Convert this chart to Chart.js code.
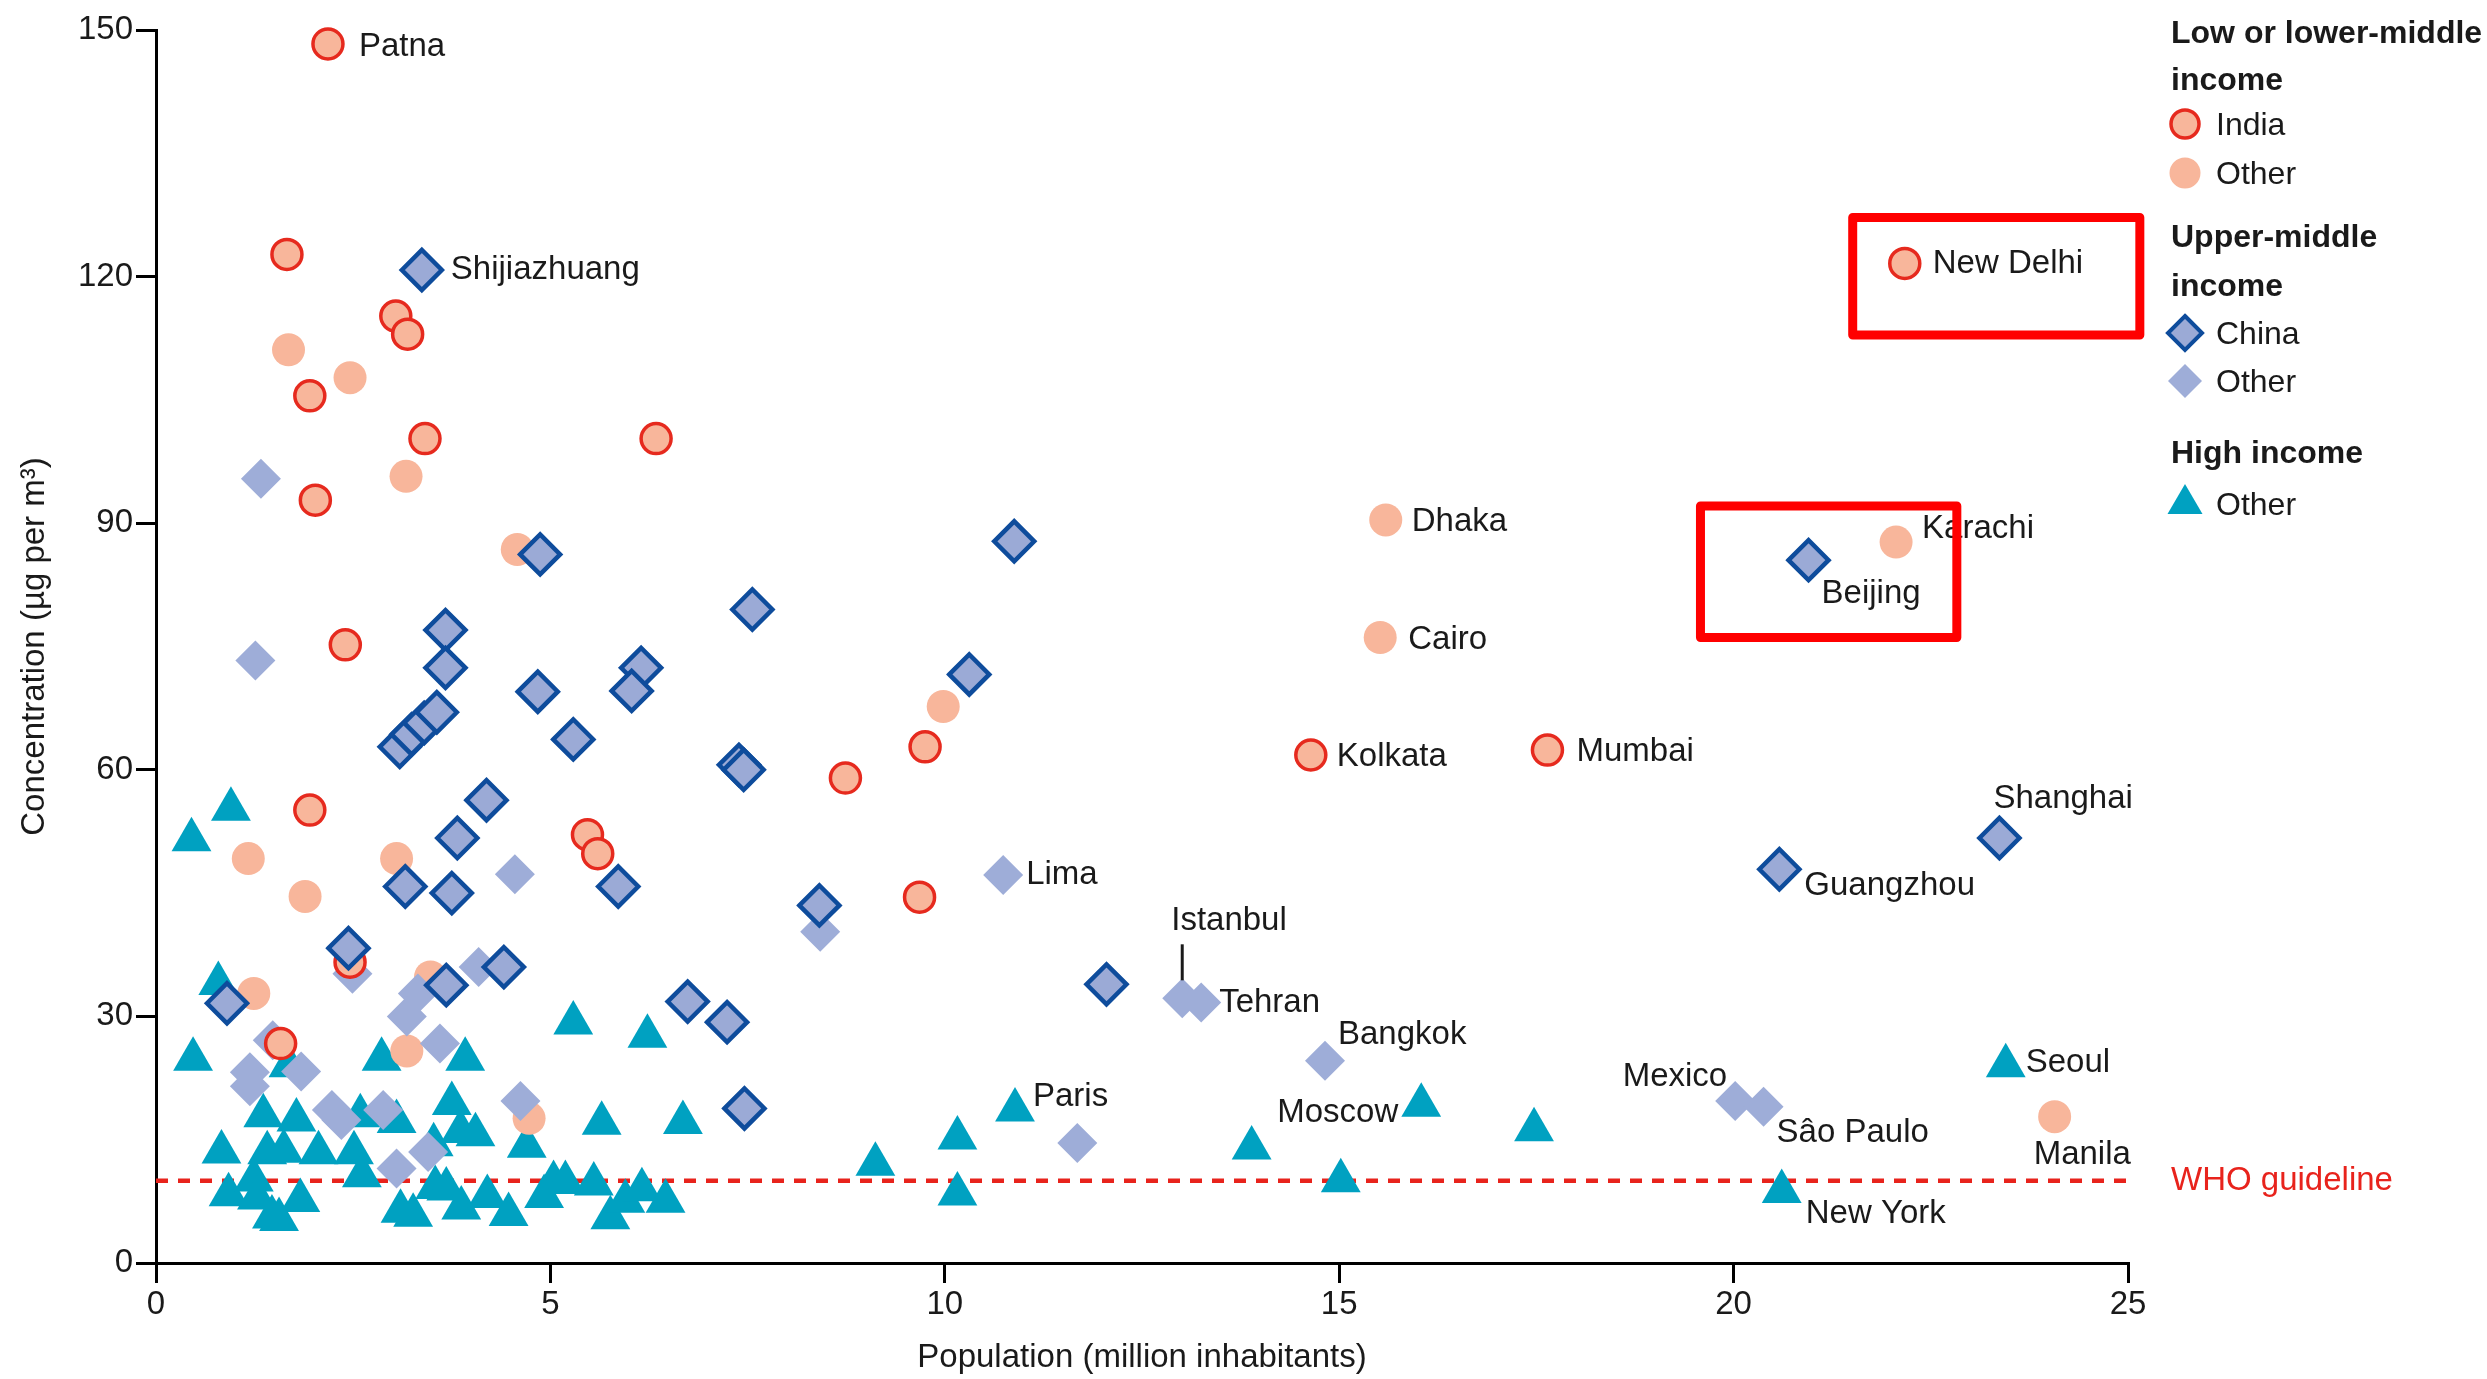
<!DOCTYPE html>
<html>
<head>
<meta charset="utf-8">
<title>Concentration vs population</title>
<script src="https://cdn.jsdelivr.net/npm/chart.js@4.4.1/dist/chart.umd.min.js"></script>
<style>
  html, body { margin: 0; padding: 0; background: #fff; }
  #wrap { position: relative; width: 2487px; height: 1379px; font-family: "Liberation Sans", Arial, sans-serif; color: #1a1a1a; }
  #chart { position: absolute; left: 0; top: 0; }
  .lg { position: absolute; left: 2171px; font-size: 32px; height: 40px; line-height: 40px; white-space: nowrap; }
  .lg.head { font-weight: bold; }
  .lg.item { padding-left: 45px; }
  .lg svg { position: absolute; left: -2px; top: 4px; overflow: visible; }
</style>
</head>
<body>
<div id="wrap">
  <canvas id="chart" width="2487" height="1379"></canvas>

  <!-- legend, grouped by income level -->
  <div class="lg head" style="top: 12px">Low or lower-middle</div>
  <div class="lg head" style="top: 59px">income</div>
  <div class="lg item" style="top: 104px"><svg width="32" height="32"><circle cx="16" cy="16" r="14" fill="#f8b69b" stroke="#e62a1e" stroke-width="3.5"/></svg>India</div>
  <div class="lg item" style="top: 153px"><svg width="32" height="32"><circle cx="16" cy="16" r="15.5" fill="#f8b69b"/></svg>Other</div>
  <div class="lg head" style="top: 216px">Upper-middle</div>
  <div class="lg head" style="top: 265px">income</div>
  <div class="lg item" style="top: 313px"><svg width="32" height="32"><polygon points="16,-1 33,16 16,33 -1,16" fill="#9baad6" stroke="#0e4c9c" stroke-width="4"/></svg>China</div>
  <div class="lg item" style="top: 361px"><svg width="32" height="32"><polygon points="16,-1 33,16 16,33 -1,16" fill="#9eadd8"/></svg>Other</div>
  <div class="lg head" style="top: 432px">High income</div>
  <div class="lg item" style="top: 484px"><svg width="32" height="32"><polygon points="16,-4 33.5,26 -1.5,26" fill="#00a1c1"/></svg>Other</div>
</div>

<script>
// ---- data: population (million) and PM concentration (µg per m3) ----
// named cities come first in each group, matching the names arrays

// low or lower-middle income, India
const indiaNames = ["Patna", "New Delhi", "Kolkata", "Mumbai"];
const indiaPop = [2.18, 22.17, 14.64, 17.64, 1.66, 3.04, 3.19, 1.95, 3.41, 6.34, 2.02, 2.40, 1.95, 5.47, 5.60, 8.74, 9.75, 9.68, 2.46, 1.58];
const indiaConc = [148.3, 121.6, 61.8, 62.4, 122.7, 115.2, 113.0, 105.5, 100.3, 100.3, 92.8, 75.2, 55.1, 52.1, 49.8, 59.0, 62.8, 44.5, 36.6, 26.7];

// low or lower-middle income, other countries
const otherLowNames = ["Dhaka", "Cairo", "Karachi", "Manila"];
const otherLowPop = [15.59, 15.52, 22.06, 24.07, 1.68, 2.46, 3.17, 4.58, 9.98, 1.17, 1.89, 3.05, 1.24, 3.48, 3.18, 4.73];
const otherLowConc = [90.4, 76.1, 87.7, 17.8, 111.1, 107.7, 95.7, 86.8, 67.7, 49.2, 44.6, 49.2, 32.8, 34.8, 25.8, 17.6];

// upper-middle income, China
const chinaNames = ["Shijiazhuang", "Beijing", "Shanghai", "Guangzhou"];
const chinaPop = [3.37, 20.95, 23.37, 20.58, 4.87, 7.56, 3.67, 3.67, 4.84, 6.15, 6.03, 3.09, 3.24, 3.40, 3.56, 5.29, 7.39, 7.45, 10.88, 10.31, 4.19, 3.82, 3.16, 3.75, 5.86, 8.41, 2.44, 3.68, 4.41, 0.90, 6.74, 7.24, 7.46, 12.05];
const chinaConc = [120.8, 85.5, 51.7, 47.9, 86.2, 79.5, 77.0, 72.4, 69.5, 72.4, 69.6, 62.8, 64.3, 65.7, 67.0, 63.7, 60.6, 60.0, 87.8, 71.6, 56.3, 51.7, 45.8, 45.0, 45.8, 43.5, 38.3, 33.8, 36.0, 31.6, 31.8, 29.3, 18.8, 33.9];

// upper-middle income, other countries
const otherUpperNames = ["Lima", "Istanbul", "Tehran", "Bangkok", "Mexico", "Sâo Paulo"];
const otherUpperPop = [10.74, 13.01, 13.25, 14.82, 20.02, 20.38, 1.33, 1.26, 4.55, 8.42, 11.68, 2.49, 1.48, 1.19, 1.19, 1.84, 3.32, 3.18, 4.09, 3.60, 4.62, 2.23, 2.35, 2.88, 3.45, 3.05];
const otherUpperConc = [47.2, 32.2, 31.7, 24.6, 19.7, 19.0, 95.4, 73.3, 47.3, 40.3, 14.6, 35.2, 27.1, 23.2, 21.5, 23.3, 32.8, 30.0, 36.0, 26.7, 19.7, 18.6, 17.4, 18.6, 13.5, 11.5];

// high income
const highNames = ["Paris", "Moscow", "New York", "Seoul"];
const highPop = [10.89, 16.04, 20.61, 23.45, 0.45, 0.95, 0.79, 0.47, 1.68, 2.86, 3.92, 5.29, 6.23, 3.75, 1.36, 1.78, 2.59, 3.05, 0.83, 1.41, 1.62, 2.06, 2.51, 2.61, 3.52, 0.92, 1.24, 1.28, 1.47, 1.56, 1.83, 3.10, 3.26, 3.54, 3.68, 3.87, 3.86, 4.05, 4.70, 4.20, 4.47, 4.92, 5.04, 5.19, 5.55, 5.76, 5.95, 6.16, 6.46, 5.65, 6.68, 9.12, 10.16, 10.16, 13.89, 15.02, 17.47];
const highConc = [18.6, 19.2, 8.7, 24.0, 51.5, 55.2, 34.0, 24.8, 24.0, 24.8, 24.8, 29.2, 27.6, 19.4, 17.9, 17.4, 17.9, 17.2, 13.5, 13.4, 13.6, 13.4, 13.4, 10.6, 14.4, 8.3, 10.1, 7.9, 5.6, 5.3, 7.6, 6.3, 5.8, 9.2, 9.0, 6.7, 16.0, 15.6, 14.2, 8.1, 5.9, 8.1, 9.8, 9.8, 9.6, 5.5, 7.5, 8.9, 7.5, 17.0, 17.1, 12.0, 15.2, 8.4, 14.0, 10.0, 16.2];

const whoGuideline = 10;
const xTicks = [0, 5, 10, 15, 20, 25];
const yTicks = [0, 30, 60, 90, 120, 150];

// highlighted areas (data units): [xFrom, xTo, yFrom, yTo]
const highlightBoxes = [
  [21.51, 25.15, 112.9, 127.2],
  [19.58, 22.83, 76.1, 92.1]
];

// ---- label placement (pixels from the point): dx, dy, align, leader line ----
const labelOffsets = {
  "Patna": [31, 3, "left"],
  "New Delhi": [28, 0, "left"],
  "Kolkata": [26, 2, "left"],
  "Mumbai": [29, 2, "left"],
  "Dhaka": [26, 2, "left"],
  "Cairo": [28, 2, "left"],
  "Karachi": [26, -13, "left"],
  "Manila": [-21, 38, "left"],
  "Shijiazhuang": [29, 0, "left"],
  "Beijing": [13, 34, "left"],
  "Shanghai": [-6, -39, "left"],
  "Guangzhou": [25, 17, "left"],
  "Lima": [23, 0, "left"],
  "Istanbul": [-11, -77, "left", [-54, -18]],
  "Tehran": [18, 0, "left"],
  "Bangkok": [13, -26, "left"],
  "Mexico": [-8, -24, "right"],
  "Sâo Paulo": [13, 26, "left"],
  "Paris": [18, -13, "left"],
  "Moscow": [-23, 8, "right"],
  "New York": [24, 22, "left"],
  "Seoul": [20, -3, "left"]
};

const FONT = '"Liberation Sans", Arial, sans-serif';
const TEXT = "#1a1a1a";

function points(xs, ys) {
  return xs.map((x, i) => ({ x: x, y: ys[i] }));
}

// city names next to their markers
const cityLabels = {
  id: "cityLabels",
  afterDatasetsDraw(chart) {
    const ctx = chart.ctx;
    ctx.save();
    ctx.font = "33px " + FONT;
    ctx.fillStyle = TEXT;
    ctx.strokeStyle = TEXT;
    ctx.lineWidth = 3;
    ctx.textBaseline = "middle";
    chart.data.datasets.forEach((ds, di) => {
      if (!ds.names) return;
      const meta = chart.getDatasetMeta(di);
      ds.names.forEach((name, i) => {
        const el = meta.data[i];
        const o = labelOffsets[name];
        ctx.textAlign = o[2];
        ctx.fillText(name, el.x + o[0], el.y + o[1]);
        if (o[3]) {
          ctx.beginPath();
          ctx.moveTo(el.x, el.y + o[3][0]);
          ctx.lineTo(el.x, el.y + o[3][1]);
          ctx.stroke();
        }
      });
    });

    // WHO guideline label at the right end of the dashed line
    const yPix = chart.scales.y.getPixelForValue(whoGuideline);
    ctx.fillStyle = "#e8231c";
    ctx.textAlign = "left";
    ctx.fillText("WHO guideline", chart.chartArea.right + 43, yPix);

    // red highlight rectangles
    const xs = chart.scales.x, ys = chart.scales.y;
    ctx.strokeStyle = "#ff0000";
    ctx.lineWidth = 9;
    ctx.lineJoin = "round";
    highlightBoxes.forEach(b => {
      const x1 = xs.getPixelForValue(b[0]), x2 = xs.getPixelForValue(b[1]);
      const y1 = ys.getPixelForValue(b[3]), y2 = ys.getPixelForValue(b[2]);
      ctx.strokeRect(x1, y1, x2 - x1, y2 - y1);
    });
    ctx.restore();
  }
};

const axisCommon = {
  type: "linear",
  grid: { drawOnChartArea: false, drawTicks: true, tickLength: 20, lineWidth: 3, color: "#000" },
  border: { display: true, color: "#000", width: 3 }
};

new Chart(document.getElementById("chart"), {
  type: "scatter",
  data: {
    datasets: [
      {
        label: "China", names: chinaNames, data: points(chinaPop, chinaConc), order: 0,
        pointStyle: "rectRot", pointRadius: 20, pointBackgroundColor: "#9baad6",
        pointBorderColor: "#0e4c9c", pointBorderWidth: 4.5, clip: false
      },
      {
        label: "India", names: indiaNames, data: points(indiaPop, indiaConc), order: 1,
        pointStyle: "circle", pointRadius: 15, pointBackgroundColor: "#f8b69b",
        pointBorderColor: "#e62a1e", pointBorderWidth: 3.5, clip: false
      },
      {
        label: "Other (upper-middle)", names: otherUpperNames, data: points(otherUpperPop, otherUpperConc), order: 2,
        pointStyle: "rectRot", pointRadius: 20, pointBackgroundColor: "#9eadd8",
        pointBorderWidth: 0, clip: false
      },
      {
        label: "Other (low or lower-middle)", names: otherLowNames, data: points(otherLowPop, otherLowConc), order: 3,
        pointStyle: "circle", pointRadius: 16.5, pointBackgroundColor: "#f8b69b",
        pointBorderWidth: 0, clip: false
      },
      {
        label: "Other (high)", names: highNames, data: points(highPop, highConc), order: 4,
        pointStyle: "triangle", pointRadius: 23, pointBackgroundColor: "#00a1c1",
        pointBorderWidth: 0, clip: false
      },
      {
        // WHO guideline as a dashed line across the full x range
        type: "line", label: "WHO guideline", order: 5,
        data: [{ x: xTicks[0], y: whoGuideline }, { x: xTicks[xTicks.length - 1], y: whoGuideline }],
        borderColor: "#e8231c", borderWidth: 4.5, borderDash: [12, 10], pointRadius: 0, fill: false
      }
    ]
  },
  options: {
    responsive: false,
    animation: false,
    events: [],
    layout: { padding: { left: 0, top: 30, right: 359, bottom: 0 } },
    plugins: { legend: { display: false }, tooltip: { enabled: false } },
    scales: {
      x: Object.assign({}, axisCommon, {
        min: xTicks[0], max: xTicks[xTicks.length - 1],
        afterBuildTicks: s => { s.ticks = xTicks.map(v => ({ value: v })); },
        ticks: { font: { family: FONT, size: 33 }, color: TEXT, padding: 2, maxRotation: 0 },
        title: { display: true, text: "Population (million inhabitants)", font: { family: FONT, size: 33 }, color: TEXT, padding: { top: 0, bottom: 1 } },
        afterFit: s => { s.height = 116; }
      }),
      y: Object.assign({}, axisCommon, {
        min: yTicks[0], max: yTicks[yTicks.length - 1],
        afterBuildTicks: s => { s.ticks = yTicks.map(v => ({ value: v })); },
        ticks: { font: { family: FONT, size: 33 }, color: TEXT, padding: 3 },
        title: { display: true, text: "Concentration (µg per m³)", font: { family: FONT, size: 33 }, color: TEXT, padding: { top: 15, bottom: 0 } },
        afterFit: s => { s.width = 156; }
      })
    }
  },
  plugins: [cityLabels]
});
</script>
</body>
</html>
